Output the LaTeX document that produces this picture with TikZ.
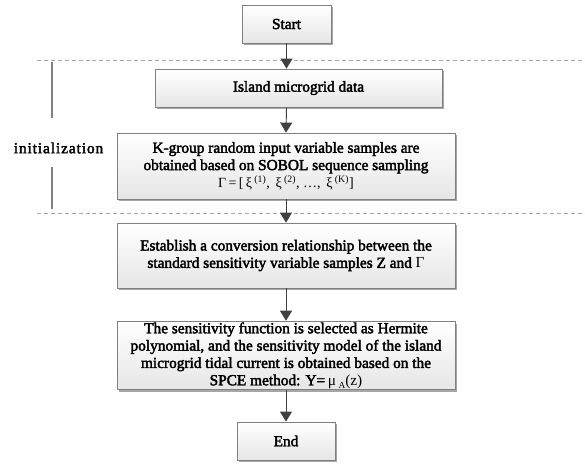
\documentclass[tikz,border=0pt]{standalone}
\usepackage{fontspec}
\setmainfont{Liberation Serif}
\newfontfamily\boxfont{Liberation Serif}[BoldFont={Liberation Serif},BoldFeatures={FakeBold=2.5}]
\newfontfamily\sidefont{Liberation Serif}[LetterSpace=6,BoldFont={Liberation Serif},BoldFeatures={FakeBold=2.5}]
\usetikzlibrary{arrows.meta,shadows}
\begin{document}
\begin{tikzpicture}[x=0.75pt,y=-0.75pt,
  box/.style={draw=black!50, line width=0.6pt, shading=axis, top color=white, bottom color=black!10,
    drop shadow={shadow xshift=1.8pt, shadow yshift=-1.8pt, fill=black!35, opacity=1},
    align=center, inner sep=1pt, font=\fontsize{11.5}{13}\boxfont\bfseries},
  arr/.style={draw=black!75, line width=0.7pt, -{Triangle[length=7.5pt,width=9pt]}},
  sep/.style={draw=black!35, line width=0.6pt, dash pattern=on 3pt off 2.2pt},
  brk/.style={draw=black!50, line width=1pt}]
\useasboundingbox (0,0) rectangle (585,464);
% separators
\coordinate (d1a) at (37,60); \coordinate (d1b) at (585,60);
\coordinate (d2a) at (37,213); \coordinate (d2b) at (585,213);
\draw[sep] (d1a) -- (d1b);
\draw[sep] (d2a) -- (d2b);
\coordinate (b1) at (52,62); \coordinate (b2) at (52,118);
\coordinate (b3) at (52,167); \coordinate (b4) at (52,209);
\draw[brk] (b1) -- (b2);
\draw[brk] (b3) -- (b4);
\node[font=\fontsize{11.5}{12}\sidefont\bfseries] (init) at (58.5,148) {initialization};
% boxes
\node[box, minimum width={89*0.75pt}, minimum height={38*0.75pt}] (start) at (286.5,24) {Start};
\node[box, minimum width={287*0.75pt}, minimum height={38*0.75pt}] (island) at (298.5,88) {Island microgrid data};
\node[box, minimum width={338*0.75pt}, minimum height={66*0.75pt}] (kgroup) at (286,166)
  {K-group random input variable samples are\\ obtained based on SOBOL sequence sampling\\
   \fontsize{10.5}{13}\selectfont\mdseries Γ\,=\,[\,ξ\,\textsuperscript{(1)},\hspace{0.4em}ξ\,\textsuperscript{(2)}, …,\hspace{0.4em}ξ\,\textsuperscript{(K)}]};
\node[box, minimum width={338*0.75pt}, minimum height={65*0.75pt}] (estab) at (286,255.5)
  {Establish a conversion relationship between the\\ standard sensitivity variable samples Z and {\mdseries Γ}};
\node[box, minimum width={338*0.75pt}, minimum height={65*0.75pt}] (herm) at (286,355.5)
  {The sensitivity function is selected as Hermite\\ polynomial, and the sensitivity model of the island\\
   microgrid tidal current is obtained based on the\\ SPCE method: Y=\,{\mdseries μ\,\raisebox{-0.4ex}{\scriptsize A}(z)}};
\node[box, minimum width={98*0.75pt}, minimum height={38*0.75pt}] (end) at (286,441) {End};
% arrows
\draw[arr] (start.south) -- (start.south |- island.north);
\draw[arr] (start.south |- island.south) -- (kgroup.north);
\draw[arr] (kgroup.south) -- (estab.north);
\draw[arr] (estab.south) -- (herm.north);
\draw[arr] (herm.south) -- (end.north);
\end{tikzpicture}
\end{document}
